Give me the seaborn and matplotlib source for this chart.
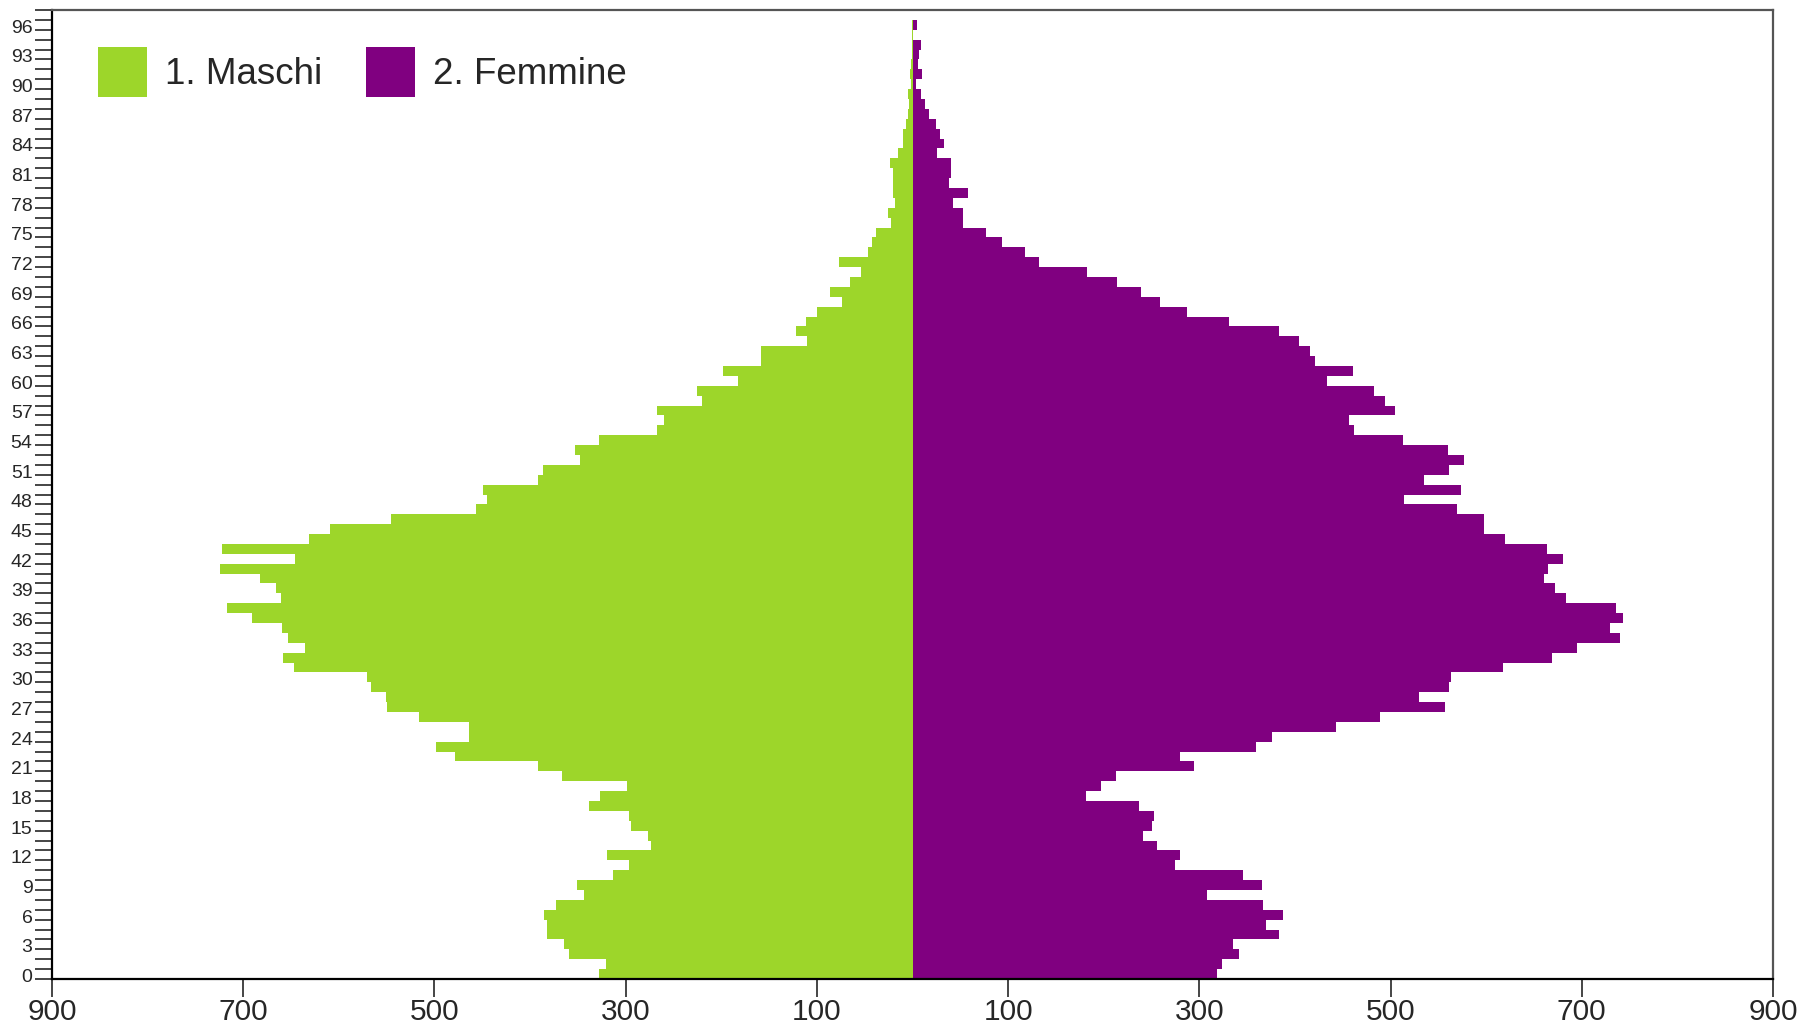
# Piramide delle età: maschi a sinistra, femmine a destra
import pandas as pd
import seaborn as sns
import matplotlib
matplotlib.use('Agg')
from matplotlib import pyplot as plt
from matplotlib.ticker import MultipleLocator, FormatStrFormatter
from matplotlib.transforms import ScaledTranslation

# età 0..97
ages = list(range(98))
maschi = [328, 321, 359, 365, 382, 382, 385, 373, 344, 351,
          313, 296, 320, 273, 277, 294, 297, 338, 327, 299,
          367, 392, 479, 498, 464, 464, 516, 550, 551, 566,
          571, 647, 658, 635, 653, 659, 691, 717, 660, 666,
          682, 724, 646, 722, 631, 609, 545, 457, 445, 449,
          392, 386, 348, 353, 328, 267, 260, 267, 220, 225,
          182, 198, 158, 158, 110, 122, 111, 100, 74, 86,
          65, 54, 77, 47, 42, 38, 22, 26, 18, 20,
          20, 20, 24, 15, 10, 10, 7, 5, 4, 5,
          2, 3, 2, 1, 1, 1, 1, 0]
femmine = [318, 324, 342, 335, 383, 370, 387, 367, 308, 366,
           346, 275, 280, 256, 241, 251, 253, 237, 181, 197,
           213, 294, 280, 359, 376, 443, 489, 557, 530, 561,
           563, 618, 669, 695, 740, 730, 743, 736, 684, 672,
           660, 665, 680, 664, 620, 598, 598, 570, 514, 574,
           535, 561, 577, 560, 513, 462, 457, 505, 494, 483,
           434, 461, 421, 416, 404, 383, 331, 287, 259, 239,
           214, 183, 132, 118, 94, 77, 53, 53, 42, 58,
           38, 40, 40, 26, 33, 29, 25, 17, 13, 9,
           4, 10, 6, 7, 9, 1, 5, 1]
sex_labels = ['1. Maschi', '2. Femmine']
sex_colors = ['#9DD62A', '#800080']
x_ticks = [-900, -700, -500, -300, -100, 100, 300, 500, 700, 900]

sns.set_style('ticks')
plt.rcParams['font.family'] = ['Liberation Sans', 'DejaVu Sans']

df = pd.DataFrame({
    'eta': ages * 2,
    'pop': [-v for v in maschi] + femmine,
    'sesso': [sex_labels[0]] * len(ages) + [sex_labels[1]] * len(ages),
})
# la barra dell'età a copre l'intervallo [a, a+1)
df['y'] = df['eta'] + 0.5

fig = plt.figure(figsize=(18.11, 10.27), dpi=100)
ax = fig.add_axes([52 / 1811, 48 / 1027, 1721 / 1811, 969 / 1027])
sns.barplot(data=df, x='pop', y='y', hue='sesso', orient='h',
            native_scale=True, dodge=False, width=1, saturation=1,
            palette=dict(zip(sex_labels, sex_colors)),
            errorbar=None, linewidth=0, antialiased=False, ax=ax)

ax.set_xlim(-900, 900)
ax.set_ylim(0, 98)
ax.set_xticks(x_ticks)
ax.set_xticklabels([str(abs(t)) for t in x_ticks])
ax.yaxis.set_major_locator(MultipleLocator(3))
ax.yaxis.set_minor_locator(MultipleLocator(1))
ax.yaxis.set_major_formatter(FormatStrFormatter('%d'))
ax.tick_params(axis='y', which='both', length=12, width=1.2, labelsize=14, pad=2)
ax.tick_params(axis='x', length=13, width=1.2, labelsize=21.5, pad=0.5)
ax.set_xlabel('')
ax.set_ylabel('')
for side, s in ax.spines.items():
    s.set_linewidth(1.6)
    s.set_color('black' if side in ('left', 'bottom') else '#555555')

# etichette dell'asse y leggermente sopra la tacca
shift = ScaledTranslation(0, 3.5 / 100, fig.dpi_scale_trans)
for lab in ax.get_yticklabels():
    lab.set_transform(lab.get_transform() + shift)

leg = ax.get_legend()
handles = leg.legend_handles
labels = [t.get_text() for t in leg.get_texts()]
leg.remove()
ax.legend(handles, labels, loc='upper left', bbox_to_anchor=(0.0267, 0.962),
          frameon=False, fontsize=26.5, ncol=2, handlelength=1.33,
          handleheight=1.72, handletextpad=0.48, columnspacing=1.2,
          borderpad=0, borderaxespad=0)

fig.savefig('out.png', dpi=100)
